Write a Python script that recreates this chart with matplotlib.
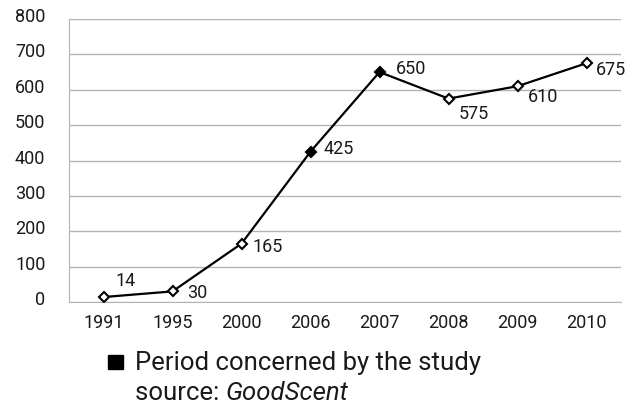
import matplotlib
matplotlib.use("Agg")
import matplotlib.pyplot as plt
from matplotlib.transforms import ScaledTranslation

plt.rcParams['font.family'] = ['Roboto', 'DejaVu Sans']

years = ["1991", "1995", "2000", "2006", "2007", "2008", "2009", "2010"]
values = [14, 30, 165, 425, 650, 575, 610, 675]
study_period = [False, False, False, True, True, False, False, False]
# label offsets in pixels (dx, dy of digit centre, up positive)
label_offsets = [(12, 18), (15, 0), (11, -2), (13, 4), (16, 5), (10, -14), (10, -9), (9, -5)]

W, H = 638, 407
fig = plt.figure(figsize=(W / 100, H / 100), dpi=100)
L, R, T, B = 69, 621, 19, 302
ax = fig.add_axes([L / W, 1 - B / H, (R - L) / W, (B - T) / H])

TXT = '#1a1a1a'
x = list(range(len(years)))
ax.plot(x, values, color='black', lw=1.6, zorder=3)
for xi, v, filled, (dx, dy) in zip(x, values, study_period, label_offsets):
    ax.plot(xi, v, marker='D', ms=5, mew=1.5, mec='black',
            mfc='black' if filled else 'white', zorder=4)
    ax.annotate(str(v), (xi, v), xytext=(dx, dy - 6.5), textcoords='offset pixels',
                fontsize=13, color=TXT, va='baseline', ha='left')

ax.set_xlim(-0.5, 7.5)
ax.set_ylim(0, 800)
ax.set_yticks(range(0, 801, 100))
ax.set_xticks(x)
ax.set_xticklabels(years)
ax.grid(axis='y', color='#b4b4b4', lw=1)
ax.set_axisbelow(True)
for s in ['top', 'right']:
    ax.spines[s].set_visible(False)
ax.spines['left'].set_color('#b4b4b4')
ax.spines['bottom'].set_color('#b4b4b4')
ax.tick_params(length=0, labelsize=13, colors=TXT)
ax.tick_params(axis='y', pad=17)
ax.tick_params(axis='x', pad=9)
shift = ScaledTranslation(0, 4 / 100, fig.dpi_scale_trans)
for lab in ax.get_yticklabels():
    lab.set_transform(lab.get_transform() + shift)

# legend / source block
fig.patches.append(plt.Rectangle((108 / W, 1 - 369 / H), 15 / W, 14 / H,
                                 transform=fig.transFigure, color='black'))
fig.text(135 / W, 1 - 370 / H, "Period concerned by the study", fontsize=18.5,
         va='baseline', ha='left', color=TXT)
t1 = fig.text(135 / W, 1 - 400 / H, "source: ", fontsize=18.5, va='baseline', ha='left', color=TXT)
fig.canvas.draw()
bb = t1.get_window_extent()
fig.text(bb.x1 / W, 1 - 400 / H, "GoodScent", fontsize=18.5, va='baseline', ha='left',
         style='italic', color=TXT)

fig.savefig("out.png", dpi=100)
